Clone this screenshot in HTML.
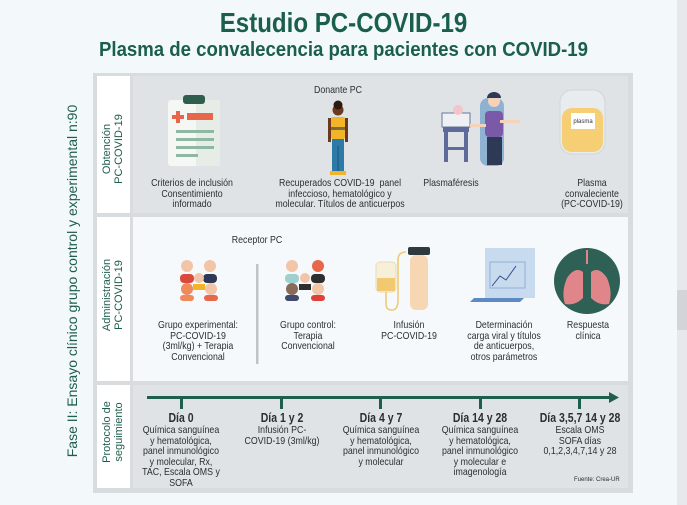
<!DOCTYPE html>
<html><head><meta charset="utf-8"><style>
*{margin:0;padding:0;box-sizing:border-box}
body{width:687px;height:505px;background:#f3f8fb;position:relative;overflow:hidden;font-family:"Liberation Sans",sans-serif;color:#2b2f33}
.a{position:absolute}
.t{position:absolute;text-align:center;font-size:10.5px;line-height:10.5px;transform:translateX(-50%) scaleX(0.84);white-space:nowrap}
.b{font-weight:bold;font-size:12.5px;line-height:13px}
.vl{position:absolute;transform:rotate(-90deg);transform-origin:center;text-align:center;color:#1f5e4e;white-space:nowrap}
</style></head><body>
<div class="a" style="right:0;top:0;width:10px;height:505px;background:#e6e8ea"></div>
<div class="a" style="right:0;top:290px;width:10px;height:40px;background:#d2d4d6"></div>
<div class="a" style="left:0;width:687px;top:7px;text-align:center;font-weight:bold;font-size:28px;color:#1a5e4c;transform:scaleX(0.86)">Estudio PC-COVID-19</div>
<div class="a" style="left:0;width:687px;top:39px;text-align:center;font-weight:bold;font-size:20px;color:#1a5e4c;transform:scaleX(0.93)">Plasma de convalecencia para pacientes con COVID-19</div>

<div class="vl" style="left:-128px;top:273px;width:400px;font-size:14px;line-height:16px">Fase II: Ensayo clínico grupo control y experimental n:90</div>

<div class="a" style="left:93px;top:73px;width:540px;height:420px;background:#d8dcde"></div>
<div class="a" style="left:97px;top:76px;width:33px;height:137px;background:#fff"></div>
<div class="a" style="left:97px;top:217px;width:33px;height:164px;background:#fff"></div>
<div class="a" style="left:97px;top:385px;width:33px;height:103px;background:#fff"></div>
<div class="a" style="left:133px;top:76px;width:495px;height:137px;background:#dfe3e5"></div>
<div class="a" style="left:133px;top:217px;width:495px;height:164px;background:#f5f9fb"></div>
<div class="a" style="left:133px;top:385px;width:495px;height:103px;background:#dfe3e5"></div>
<div class="vl" style="left:63px;top:137px;width:100px;font-size:11px;line-height:12px">Obtención<br>PC-COVID-19</div>
<div class="vl" style="left:53px;top:283px;width:120px;font-size:11px;line-height:12px">Administración<br>PC-COVID-19</div>
<div class="vl" style="left:63px;top:420px;width:100px;font-size:11px;line-height:12px">Protocolo de<br>seguimiento</div>

<svg class="a" style="left:0;top:0" width="687" height="505">
<!-- clipboard -->
<rect x="168" y="100" width="52" height="66" rx="3" fill="#f4f7f3"/>
<rect x="196" y="100" width="24" height="66" fill="#e6ece6"/>
<rect x="183" y="95" width="22" height="9" rx="3" fill="#2f5e4c"/>
<rect x="176" y="111" width="4" height="12" fill="#e8664a"/><rect x="172" y="115" width="12" height="4" fill="#e8664a"/>
<rect x="187" y="113" width="26" height="7" fill="#e8664a"/>
<rect x="176" y="130" width="38" height="3" fill="#8fb7a2"/><rect x="176" y="138" width="38" height="3" fill="#8fb7a2"/><rect x="176" y="146" width="38" height="3" fill="#8fb7a2"/><rect x="176" y="154" width="22" height="3" fill="#8fb7a2"/>
<!-- person -->
<circle cx="338" cy="110" r="5.5" fill="#6b3a1e"/><circle cx="338" cy="105" r="4.5" fill="#2a1a10"/>
<rect x="331" y="117" width="14" height="22" rx="2" fill="#f2b52a"/><rect x="331" y="127" width="14" height="3" fill="#7c6a3a"/>
<rect x="332" y="139" width="12" height="33" fill="#2e7aa6"/><rect x="337.5" y="146" width="1.2" height="26" fill="#1e5a80"/>
<rect x="328" y="118" width="3" height="24" fill="#6b3a1e"/><rect x="345" y="118" width="3" height="24" fill="#6b3a1e"/>
<rect x="330" y="171" width="16" height="4" fill="#f2b52a"/>
<!-- plasmapheresis -->
<rect x="442" y="113" width="28" height="14" fill="#eef0f3" stroke="#6a7a9e"/>
<circle cx="458" cy="110" r="5" fill="#f2c4cc"/>
<rect x="443" y="127" width="26" height="5" fill="#5d6a9a"/>
<rect x="444" y="132" width="4" height="30" fill="#5d6a9a"/><rect x="464" y="132" width="4" height="30" fill="#5d6a9a"/><rect x="446" y="147" width="20" height="3" fill="#5d6a9a"/>
<rect x="480" y="98" width="24" height="68" rx="8" fill="#8fb2d2"/>
<circle cx="494" cy="101" r="6" fill="#f5d2b8"/><path d="M487 98 a7 6 0 0 1 14 0z" fill="#2e3a55"/>
<rect x="485" y="111" width="18" height="26" rx="4" fill="#7a5aa8"/>
<rect x="487" y="137" width="15" height="28" fill="#2e3a55"/>
<rect x="500" y="120" width="20" height="3" fill="#f5d2b8"/><rect x="470" y="124" width="16" height="3" fill="#f5d2b8"/>
<!-- bag -->
<rect x="560" y="90" width="45" height="64" rx="12" fill="#e8ecef" stroke="#cfd6db"/>
<rect x="562" y="108" width="41" height="44" rx="10" fill="#f6cf74"/>
<rect x="571" y="113" width="24" height="16" fill="#fff"/>
<text x="583" y="123" font-size="6" text-anchor="middle" fill="#333">plasma</text>
<!-- row2 group1 -->
<g>
<circle cx="187" cy="266" r="6" fill="#f2c4a8"/><rect x="180" y="274" width="14" height="9" rx="4" fill="#d94a3c"/>
<circle cx="210" cy="266" r="6" fill="#f2c4a8"/><rect x="203" y="274" width="14" height="9" rx="4" fill="#2e3a55"/>
<circle cx="199" cy="278" r="5" fill="#f2c4a8"/><rect x="193" y="284" width="12" height="6" fill="#f2b52a"/>
<circle cx="187" cy="289" r="6" fill="#f08a5a"/><rect x="180" y="295" width="14" height="6" rx="3" fill="#f08a5a"/>
<circle cx="211" cy="289" r="6" fill="#f2c4a8"/><rect x="204" y="295" width="14" height="6" rx="3" fill="#e8664a"/>
</g>
<rect x="256" y="264" width="2.5" height="100" fill="#bfc3c6"/>
<g>
<circle cx="292" cy="266" r="6" fill="#f2c4a8"/><rect x="285" y="274" width="14" height="9" rx="4" fill="#9fcfcf"/>
<circle cx="318" cy="266" r="6" fill="#e8664a"/><rect x="311" y="274" width="14" height="9" rx="4" fill="#2e2e2e"/>
<circle cx="305" cy="278" r="5" fill="#f2c4a8"/><rect x="299" y="284" width="12" height="6" fill="#2e2e2e"/>
<circle cx="292" cy="289" r="6" fill="#8a6a5a"/><rect x="285" y="295" width="14" height="6" rx="3" fill="#3e4a6e"/>
<circle cx="318" cy="289" r="6" fill="#f2c4a8"/><rect x="311" y="295" width="14" height="6" rx="3" fill="#e0403a"/>
</g>
<!-- infusion -->
<rect x="376" y="262" width="20" height="30" rx="4" fill="#f7f0d8" stroke="#e9dcb0"/>
<rect x="377" y="278" width="18" height="13" fill="#f2c870"/>
<path d="M386 292 v12 q0 6 6 6 q6 0 6 -10 v-40 q0 -8 8 -8" stroke="#f2c870" fill="none" stroke-width="1.5"/>
<rect x="410" y="255" width="18" height="55" rx="6" fill="#f7d6b4"/>
<rect x="408" y="247" width="22" height="8" rx="2" fill="#2e3a3e"/>
<!-- document -->
<path d="M485 248 h50 v50 h-50z" fill="#c8daee"/>
<path d="M470 302 h50 l4 -4 h-50z" fill="#5d8ac2"/>
<rect x="490" y="262" width="35" height="26" fill="none" stroke="#8fb0d8"/>
<path d="M492 286 l8 -10 l6 4 l10 -14" stroke="#2e4a8a" fill="none"/>
<!-- lungs -->
<circle cx="587" cy="281" r="33" fill="#2f6055"/>
<path d="M583 258 v14 q-8 -6 -16 6 q-6 14 -2 26 q10 2 18 -6z M591 258 v14 q8 -6 16 6 q6 14 2 26 q-10 2 -18 -6z" fill="#e0868a"/>
<rect x="586" y="250" width="2" height="14" fill="#e0868a"/>
<!-- timeline -->
<rect x="147" y="396" width="464" height="3" fill="#1f5e4e"/>
<path d="M609 392 l10 5.5 l-10 5.5z" fill="#1f5e4e"/>
<rect x="180" y="397" width="3" height="12" fill="#1f5e4e"/>
<rect x="280" y="397" width="3" height="12" fill="#1f5e4e"/>
<rect x="379" y="397" width="3" height="12" fill="#1f5e4e"/>
<rect x="479" y="397" width="3" height="12" fill="#1f5e4e"/>
<rect x="578" y="397" width="3" height="12" fill="#1f5e4e"/>
</svg>

<div class="t" style="left:338px;top:85px">Donante PC</div>
<div class="t" style="left:192px;top:178px">Criterios de inclusión<br>Consentimiento<br>informado</div>
<div class="t" style="left:340px;top:178px">Recuperados COVID-19&nbsp; panel<br>infeccioso, hematológico y<br>molecular. Títulos de anticuerpos</div>
<div class="t" style="left:451px;top:178px">Plasmaféresis</div>
<div class="t" style="left:592px;top:178px">Plasma<br>convaleciente<br>(PC-COVID-19)</div>

<div class="t" style="left:257px;top:235px">Receptor PC</div>
<div class="t" style="left:198px;top:320px">Grupo experimental:<br>PC-COVID-19<br>(3ml/kg) + Terapia<br>Convencional</div>
<div class="t" style="left:308px;top:320px">Grupo control:<br>Terapia<br>Convencional</div>
<div class="t" style="left:409px;top:320px">Infusión<br>PC-COVID-19</div>
<div class="t" style="left:504px;top:320px">Determinación<br>carga viral y títulos<br>de anticuerpos,<br>otros parámetros</div>
<div class="t" style="left:588px;top:320px">Respuesta<br>clínica</div>

<div class="t" style="left:181px;top:412px"><span class="b">Día 0</span><br>Química sanguínea<br>y hematológica,<br>panel inmunológico<br>y molecular, Rx,<br>TAC, Escala OMS y<br>SOFA</div>
<div class="t" style="left:282px;top:412px"><span class="b">Día 1 y 2</span><br>Infusión PC-<br>COVID-19 (3ml/kg)</div>
<div class="t" style="left:381px;top:412px"><span class="b">Día 4 y 7</span><br>Química sanguínea<br>y hematológica,<br>panel inmunológico<br>y molecular</div>
<div class="t" style="left:480px;top:412px"><span class="b">Día 14 y 28</span><br>Química sanguínea<br>y hematológica,<br>panel inmunológico<br>y molecular e<br>imagenología</div>
<div class="t" style="left:580px;top:412px"><span class="b">Día 3,5,7 14 y 28</span><br>Escala OMS<br>SOFA días<br>0,1,2,3,4,7,14 y 28</div>
<div class="a" style="left:574px;top:477px;font-size:6px">Fuente: Crea-UR</div>
</body></html>
